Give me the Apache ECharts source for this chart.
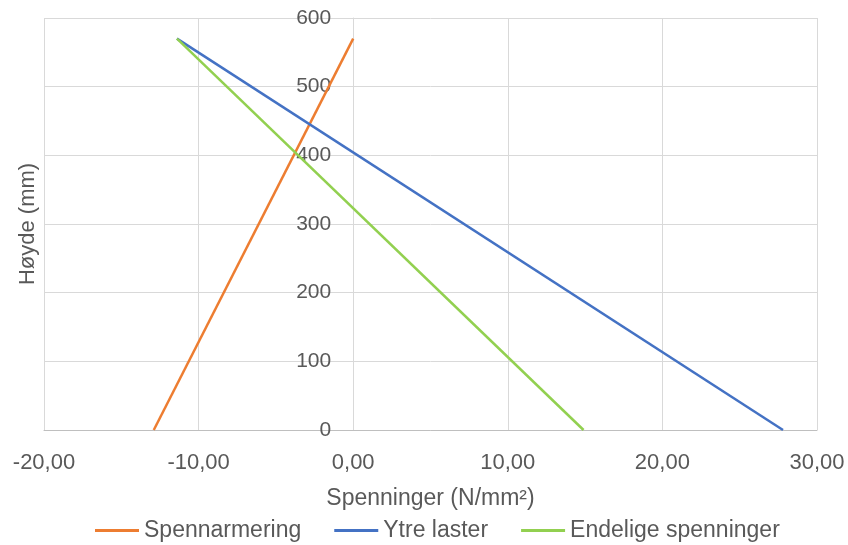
<!DOCTYPE html>
<html>
<head>
<meta charset="utf-8">
<script src="https://cdn.jsdelivr.net/npm/echarts@6/dist/echarts.min.js"></script>
<style>
  html, body { margin: 0; padding: 0; background: #fff; }
  #chart { width: 848px; height: 545px; }
</style>
</head>
<body>
<div id="chart"></div>
<script>
// høyde i snittet (mm) og spenninger (N/mm2) i topp/bunn
const heights = [0, 570]
const spennarmering = [-12.9, 0]
const ytreLaster = [27.8, -11.4]
const endelige = [14.9, -11.4]
const seriesNames = ['Spennarmering', 'Ytre laster', 'Endelige spenninger']
const colors = ['#ED7D31', '#4472C4', '#92D050']

const txt = '#595959'
const font = 'Liberation Sans'
// y-aksen står ved x = 0: (0 - -20) / 50 av plotbredden
const yAxisShift = -(848 - 44 - 31) * 20 / 50

function pairs(xs) {
  return xs.map((x, i) => [x, heights[i]])
}

const chart = echarts.init(document.getElementById('chart'))
const option = {
  animation: false,
  textStyle: { fontFamily: font },
  grid: { left: 44, right: 31, top: 18, bottom: 115, containLabel: false, outerBoundsMode: 'none' },
  legend: {
    left: 90,
    bottom: -2,
    itemWidth: 44,
    itemHeight: 3,
    itemGap: 33,
    icon: 'rect',
    textStyle: { color: txt, fontSize: 23, fontFamily: font },
    data: seriesNames
  },
  xAxis: {
    type: 'value',
    min: -20,
    max: 30,
    interval: 10,
    name: 'Spenninger (N/mm²)',
    nameLocation: 'middle',
    nameGap: 57,
    nameTextStyle: { color: txt, fontSize: 23, fontFamily: font },
    axisLine: { onZero: false, lineStyle: { color: '#bfbfbf', width: 1 } },
    axisTick: { show: false },
    axisLabel: {
      color: txt, fontSize: 22, margin: 22,
      formatter: v => v.toFixed(2).replace('.', ',')
    },
    splitLine: { lineStyle: { color: '#d9d9d9', width: 1 } }
  },
  yAxis: {
    type: 'value',
    min: 0,
    max: 600,
    interval: 100,
    offset: yAxisShift,
    name: 'Høyde (mm)',
    nameLocation: 'middle',
    nameGap: 314,
    nameTextStyle: { color: txt, fontSize: 22, fontFamily: font },
    axisLine: { show: true, onZero: false, lineStyle: { color: '#d9d9d9', width: 1 } },
    axisTick: { show: false },
    axisLabel: { color: txt, fontSize: 21, margin: 22 },
    splitLine: { lineStyle: { color: '#d9d9d9', width: 1 } }
  },
  series: [spennarmering, ytreLaster, endelige].map((xs, i) => ({
    name: seriesNames[i],
    type: 'line',
    data: pairs(xs),
    showSymbol: false,
    symbol: 'none',
    color: colors[i],
    lineStyle: { color: colors[i], width: 2.5 }
  }))
}
chart.setOption(option)
</script>
</body>
</html>
